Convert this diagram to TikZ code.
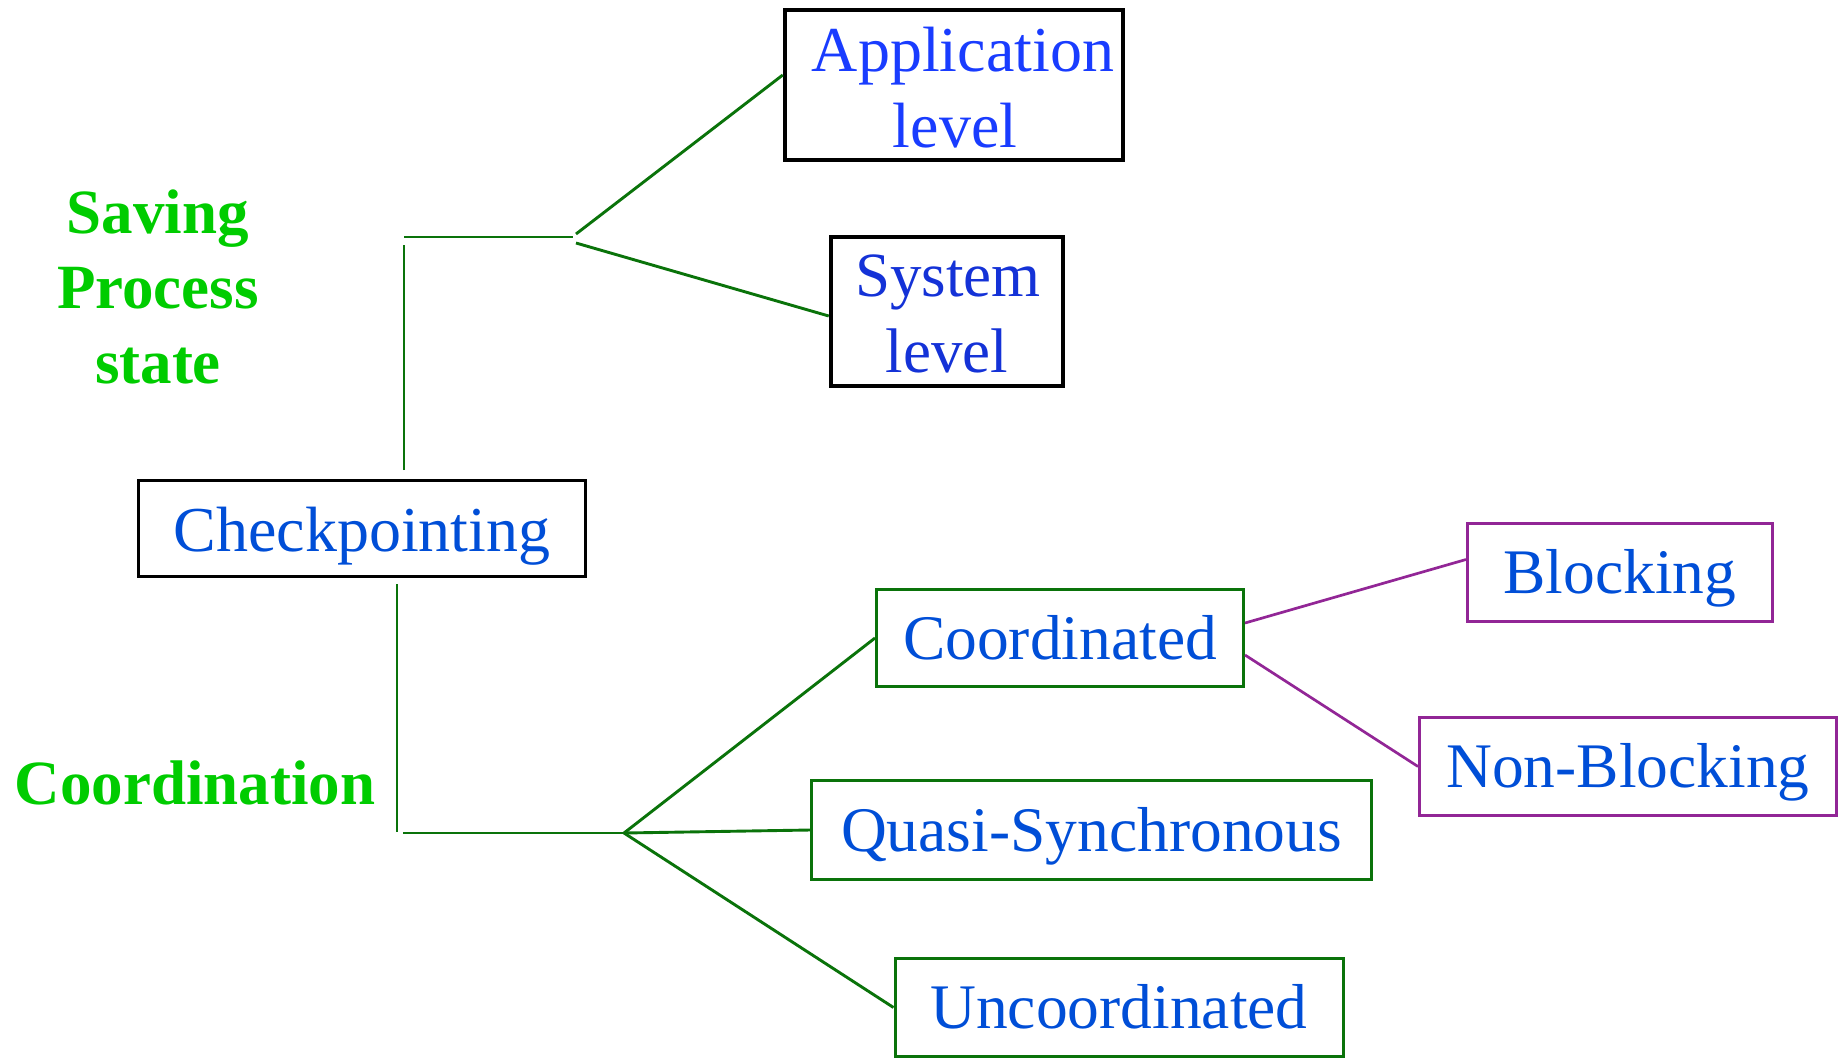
\documentclass[tikz,border=0pt]{standalone}
\usepackage{fontspec}
\setmainfont{Liberation Serif}
\definecolor{gline}{RGB}{10,115,10}
\definecolor{pline}{RGB}{146,38,150}
\definecolor{glabel}{RGB}{0,204,0}
\definecolor{tblue}{RGB}{0,78,215}
\definecolor{tblueA}{RGB}{25,60,255}
\definecolor{tblueS}{RGB}{20,50,215}
\begin{document}
\begin{tikzpicture}[x=1pt,y=-1pt,
  greenln/.style={draw=gline, line width=2.9pt},
  purpleln/.style={draw=pline, line width=2.7pt},
  blackbox/.style={draw=black, line width=4.5pt, inner sep=0pt},
  chkbox/.style={draw=black, line width=3pt, inner sep=0pt, text=tblue,
    font=\fontsize{64}{76}\selectfont, text height=47.5pt, text depth=2.5pt},
  greenbox/.style={draw=gline, line width=3pt, inner sep=0pt, text=tblue,
    font=\fontsize{63.5}{76}\selectfont, text height=44.5pt, text depth=2.5pt},
  purplebox/.style={draw=pline, line width=3pt, inner sep=0pt, text=tblue,
    font=\fontsize{63.5}{76}\selectfont, text height=44.5pt, text depth=2.5pt},
  linetxt/.style={anchor=base, inner sep=0pt, font=\fontsize{64}{76}\selectfont},
  glab/.style={anchor=base, inner sep=0pt, text=glabel, font=\fontsize{63}{72}\selectfont\bfseries}
]
\useasboundingbox (0,0) rectangle (1843,1058);

% boxes
\node[blackbox, minimum width=338pt, minimum height=150pt] (app) at (954,85) {};
\node[blackbox, minimum width=232pt, minimum height=149pt] (sys) at (947,311.5) {};
\node[chkbox, minimum width=447pt, minimum height=96pt] (chk) at (362,528.5) {Checkpointing};
\node[greenbox, minimum width=367pt, minimum height=97pt] (coord) at (1060,638) {Coordinated};
\node[greenbox, minimum width=560pt, minimum height=99pt] (quasi) at (1091.5,830) {Quasi-Synchronous};
\node[greenbox, minimum width=448pt, minimum height=98pt] (uncoord) at (1119,1007.5) {Uncoordinated};
\node[purplebox, minimum width=305pt, minimum height=98pt] (block) at (1620,572.5) {Blocking};
\node[purplebox, minimum width=417pt, minimum height=98pt] (nonb) at (1628,766.5) {Non-Blocking};

% two-line box texts
\node[linetxt, text=tblueA] (appA) at (963,71) {Application};
\node[linetxt, text=tblueA] (appB) at (955,147) {level};
\node[linetxt, text=tblueS, font=\fontsize{63}{76}\selectfont] (sysA) at (948,296) {System};
\node[linetxt, text=tblueS, font=\fontsize{63}{76}\selectfont] (sysB) at (947,372) {level};

% green labels
\node[glab] (sav1) at (158,233) {Saving};
\node[glab] (sav2) at (158,308) {Process};
\node[glab] (sav3) at (158,383) {state};
\node[glab] (coordlab) at (195,804) {Coordination};

% upper branch
\coordinate (ua) at (404,470);
\coordinate (ub) at (404,245);
\coordinate (uc) at (404,237);
\coordinate (ud) at (573,237);
\coordinate (fa) at (576,234);
\coordinate (fb) at (576,243);
\draw[greenln] (ua) -- (ub);
\draw[greenln] (uc) -- (ud);
\draw[greenln] (fa) -- ([yshift=10pt]app.west);
\draw[greenln] (fb) -- ([yshift=-4.5pt]sys.west);

% lower branch
\coordinate (la) at (397,584);
\coordinate (lb) at (397,832);
\coordinate (lc) at (403,833);
\coordinate (fan) at (624,833);
\draw[greenln] (la) -- (lb);
\draw[greenln] (lc) -- (fan);
\draw[greenln] (fan) -- (coord.west);
\draw[greenln] (fan) -- (quasi.west);
\draw[greenln] (fan) -- (uncoord.west);

% purple branch
\draw[purpleln] ([yshift=15pt]coord.east) -- ([yshift=13pt]block.west);
\draw[purpleln] ([yshift=-17pt]coord.east) -- (nonb.west);
\end{tikzpicture}
\end{document}
